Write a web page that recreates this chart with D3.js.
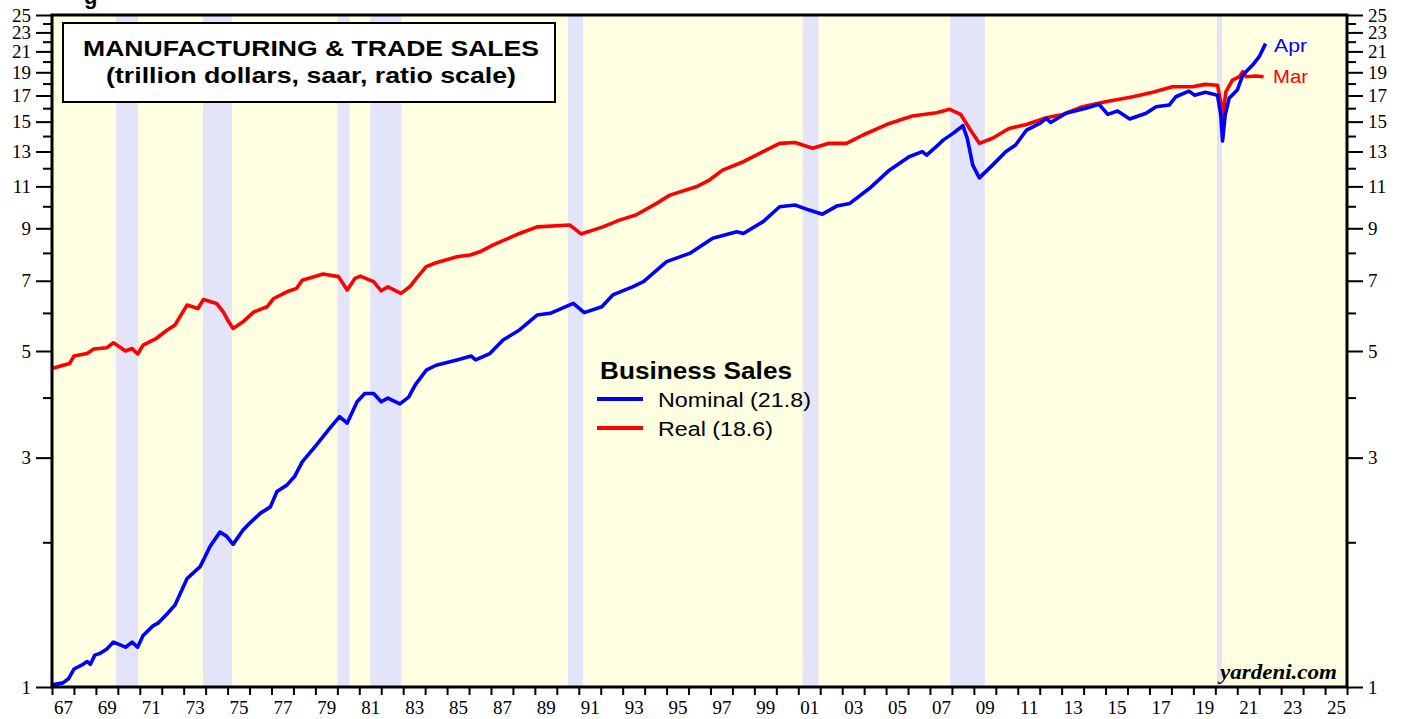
<!DOCTYPE html>
<html>
<head>
<meta charset="utf-8">
<script src="https://cdn.jsdelivr.net/npm/d3@7/dist/d3.min.js"></script>
<style>
  html, body { margin: 0; padding: 0; background: #ffffff; }
  svg { display: block; }
</style>
</head>
<body>
<svg id="chart" width="1402" height="719"></svg>
<script>
// ---------------- DATA ----------------
// Business sales, trillion dollars, saar (decimal year, value)
const nominalYears = [1967.0,1967.5,1967.75,1968.0,1968.35,1968.6,1968.75,1968.95,1969.2,1969.5,1969.8,1970.35,1970.65,1970.9,1971.15,1971.6,1971.85,1972.25,1972.6,1973.15,1973.75,1974.2,1974.65,1974.95,1975.25,1975.7,1976.0,1976.5,1976.95,1977.25,1977.7,1978.05,1978.4,1979.05,1979.65,1980.1,1980.45,1980.9,1981.25,1981.65,1982.0,1982.3,1982.85,1983.25,1983.55,1984.05,1984.5,1985.45,1986.1,1986.3,1986.95,1987.55,1988.3,1989.1,1989.7,1990.75,1991.25,1992.05,1992.55,1993.45,1993.95,1995.0,1996.05,1997.1,1998.2,1998.5,1999.4,2000.15,2000.85,2001.5,2002.1,2002.75,2003.35,2004.25,2005.15,2006.05,2006.65,2006.85,2007.45,2007.6,2008.05,2008.5,2008.7,2008.95,2009.25,2009.85,2010.45,2010.9,2011.4,2012.0,2012.3,2012.5,2013.2,2014.1,2014.7,2015.1,2015.55,2016.1,2016.85,2017.3,2017.9,2018.2,2018.8,2019.05,2019.55,2020.1,2020.25,2020.33,2020.45,2020.63,2021.0,2021.25,2021.7,2022.0,2022.29];
const nominalValues = [1.01,1.02,1.04,1.09,1.11,1.13,1.115,1.165,1.175,1.20,1.24,1.21,1.24,1.21,1.28,1.34,1.36,1.42,1.48,1.68,1.78,1.96,2.10,2.06,1.98,2.12,2.19,2.30,2.37,2.55,2.63,2.74,2.94,3.19,3.45,3.65,3.54,3.92,4.08,4.08,3.92,3.99,3.88,4.01,4.25,4.56,4.67,4.79,4.88,4.79,4.94,5.27,5.53,5.94,5.99,6.28,6.01,6.18,6.54,6.80,6.97,7.67,7.98,8.58,8.85,8.78,9.29,9.98,10.06,9.82,9.63,10.01,10.14,10.90,11.89,12.68,12.99,12.78,13.52,13.73,14.18,14.71,13.85,12.18,11.46,12.18,12.99,13.41,14.41,14.87,15.24,14.94,15.61,15.99,16.30,15.53,15.78,15.19,15.61,16.11,16.24,16.90,17.36,17.03,17.26,17.03,15.48,13.67,15.48,16.77,17.45,18.75,19.67,20.47,21.8];

const realYears = [1967.0,1967.8,1968.0,1968.6,1968.9,1969.5,1969.8,1970.35,1970.65,1970.9,1971.15,1971.7,1972.25,1972.6,1973.15,1973.65,1973.9,1974.5,1974.8,1975.05,1975.25,1975.7,1976.2,1976.8,1977.1,1977.7,1978.15,1978.4,1979.05,1979.35,1980.05,1980.45,1980.8,1981.05,1981.65,1982.0,1982.3,1982.9,1983.3,1983.6,1984.05,1984.5,1985.45,1986.05,1986.5,1987.1,1988.3,1989.1,1990.6,1991.1,1992.1,1992.85,1993.6,1994.55,1995.15,1996.35,1996.95,1997.55,1998.5,1999.4,2000.15,2000.85,2001.65,2002.4,2003.2,2003.95,2005.15,2006.2,2007.3,2007.9,2008.4,2008.8,2009.25,2009.85,2010.6,2011.4,2012.3,2013.05,2013.95,2015.0,2016.25,2017.15,2018.05,2018.95,2019.55,2020.1,2020.25,2020.33,2020.48,2020.78,2021.1,2021.25,2021.4,2021.85,2022.2];
const realValues = [4.60,4.71,4.88,4.94,5.05,5.08,5.20,5.00,5.06,4.93,5.14,5.29,5.53,5.66,6.23,6.13,6.40,6.28,6.03,5.75,5.57,5.75,6.03,6.18,6.43,6.64,6.75,7.02,7.16,7.23,7.14,6.70,7.08,7.16,6.97,6.67,6.80,6.59,6.80,7.08,7.49,7.63,7.85,7.92,8.04,8.31,8.78,9.06,9.14,8.76,9.06,9.36,9.59,10.14,10.55,10.98,11.34,11.89,12.38,12.99,13.52,13.57,13.20,13.52,13.52,14.07,14.87,15.41,15.65,15.91,15.53,14.52,13.52,13.85,14.52,14.80,15.28,15.53,16.11,16.50,16.90,17.26,17.73,17.73,17.93,17.86,16.50,15.24,17.3,18.31,18.6,19.05,18.6,18.66,18.6];

// Recessions (start, end in decimal years)
const recessionStarts = [1969.92, 1973.88, 1980.0, 1981.5, 1990.5, 2001.2, 2007.92, 2020.08];
const recessionEnds   = [1970.92, 1975.2, 1980.55, 1982.92, 1991.2, 2001.92, 2009.5, 2020.3];

const yLabelTicks = [1,3,5,7,9,11,13,15,17,19,21,23,25];
const yMinorTicks = [2,4,6,8,10,12,14,16,18,20,22,24];
const xTickYears = d3.range(1967, 2027);
const xLabelYears = d3.range(1967, 2026, 2);

const titleLines = ["MANUFACTURING & TRADE SALES", "(trillion dollars, saar, ratio scale)"];
const legendTitle = "Business Sales";
const legendLabels = ["Nominal (21.8)", "Real (18.6)"];
const endLabels = ["Apr", "Mar"];
const seriesColors = ["#0000ff", "#ff0000"];

// ---------------- LAYOUT ----------------
const L = 52, R = 1347, T = 15, B = 687;
const svg = d3.select("#chart");

const x = d3.scaleLinear().domain([1967, 2026]).range([L, R]);
const y = d3.scaleLog().domain([1, 25]).range([B, T]);

// top cut-off text fragment
svg.append("text").attr("x", 84).attr("y", 4)
  .attr("font-family", "Liberation Sans, Arial, sans-serif").attr("font-weight", "bold")
  .attr("font-size", 22).text("g");

// background
svg.append("rect").attr("x", L).attr("y", T).attr("width", R - L).attr("height", B - T)
  .attr("fill", "#ffffe2");

// recession bands
svg.append("g").selectAll("rect")
  .data(recessionStarts.map((s, i) => [s, recessionEnds[i]]))
  .join("rect")
  .attr("x", d => x(d[0])).attr("width", d => x(d[1]) - x(d[0]))
  .attr("y", T).attr("height", B - T)
  .attr("fill", "#e3e3f9");

// clip
svg.append("clipPath").attr("id", "plotclip").append("rect")
  .attr("x", L).attr("y", T).attr("width", R - L).attr("height", B - T);

// title box
svg.append("rect").attr("x", 63).attr("y", 23).attr("width", 492).attr("height", 79)
  .attr("fill", "#ffffff").attr("stroke", "#000").attr("stroke-width", 2);
const titleG = svg.append("g").attr("font-family", "Liberation Sans, Arial, sans-serif")
  .attr("font-weight", "bold").attr("font-size", 22).attr("text-anchor", "middle");
titleG.append("text").attr("x", 311).attr("y", 56).attr("textLength", 456)
  .attr("lengthAdjust", "spacingAndGlyphs").text(titleLines[0]);
titleG.append("text").attr("x", 311).attr("y", 83).attr("textLength", 410)
  .attr("lengthAdjust", "spacingAndGlyphs").text(titleLines[1]);

// lines
const line = d3.line().x(d => x(d[0])).y(d => y(d[1]));
const nominal = nominalYears.map((yr, i) => [yr, nominalValues[i]]);
const real = realYears.map((yr, i) => [yr, realValues[i]]);
const lines = svg.append("g").attr("clip-path", "url(#plotclip)");
lines.append("path").datum(real).attr("d", line).attr("fill", "none")
  .attr("stroke", seriesColors[1]).attr("stroke-width", 3.6).attr("stroke-linejoin", "round");
lines.append("path").datum(nominal).attr("d", line).attr("fill", "none")
  .attr("stroke", seriesColors[0]).attr("stroke-width", 3.6).attr("stroke-linejoin", "round");

// legend
const lg = svg.append("g").attr("font-family", "Liberation Sans, Arial, sans-serif");
lg.append("text").attr("x", 600).attr("y", 379).attr("font-weight", "bold").attr("font-size", 23)
  .attr("textLength", 192).attr("lengthAdjust", "spacingAndGlyphs").text(legendTitle);
const legendYs = [399, 428];
const legendWidths = [153, 115];
legendLabels.forEach((lab, i) => {
  lg.append("line").attr("x1", 597).attr("x2", 643).attr("y1", legendYs[i]).attr("y2", legendYs[i])
    .attr("stroke", seriesColors[i]).attr("stroke-width", 4);
  lg.append("text").attr("x", 658).attr("y", legendYs[i] + 8).attr("font-size", 20)
    .attr("textLength", legendWidths[i]).attr("lengthAdjust", "spacingAndGlyphs").text(lab);
});

// end labels
const endG = svg.append("g").attr("font-family", "Liberation Sans, Arial, sans-serif").attr("font-size", 19);
endG.append("text").attr("x", 1274).attr("y", 52).attr("fill", seriesColors[0])
  .attr("textLength", 33).attr("lengthAdjust", "spacingAndGlyphs").text(endLabels[0]);
endG.append("text").attr("x", 1273).attr("y", 83).attr("fill", seriesColors[1])
  .attr("textLength", 35).attr("lengthAdjust", "spacingAndGlyphs").text(endLabels[1]);

// watermark
svg.append("text").attr("x", 1337).attr("y", 679).attr("text-anchor", "end")
  .attr("font-family", "Liberation Serif, Times New Roman, serif").attr("font-weight", "bold")
  .attr("font-style", "italic").attr("font-size", 20)
  .attr("textLength", 117).attr("lengthAdjust", "spacingAndGlyphs").text("yardeni.com");

// ---------------- AXES ----------------
const fmtNum = d => String(d);
function styleAxis(g) {
  g.select(".domain").remove();
  g.selectAll(".tick line").attr("stroke", "#000").attr("stroke-width", 2);
  g.selectAll(".tick text").attr("font-family", "Liberation Serif, Times New Roman, serif")
    .attr("font-size", 19).attr("fill", "#000");
}
// left
svg.append("g").attr("transform", `translate(${L},0)`)
  .call(d3.axisLeft(y).tickValues(yMinorTicks).tickSize(9).tickFormat(""))
  .call(styleAxis);
svg.append("g").attr("transform", `translate(${L},0)`)
  .call(d3.axisLeft(y).tickValues(yLabelTicks).tickSize(16).tickPadding(5).tickFormat(fmtNum))
  .call(styleAxis);
// right
svg.append("g").attr("transform", `translate(${R},0)`)
  .call(d3.axisRight(y).tickValues(yMinorTicks).tickSize(9).tickFormat(""))
  .call(styleAxis);
svg.append("g").attr("transform", `translate(${R},0)`)
  .call(d3.axisRight(y).tickValues(yLabelTicks).tickSize(16).tickPadding(5).tickFormat(fmtNum))
  .call(styleAxis);
// bottom ticks
svg.append("g").attr("transform", `translate(0,${B})`)
  .call(d3.axisBottom(x).tickValues(xTickYears).tickSize(8).tickFormat(""))
  .call(styleAxis);
// bottom labels (centered in each year)
const xl = svg.append("g").attr("transform", `translate(0,${B})`)
  .call(d3.axisBottom(x).tickValues(xLabelYears.map(v => v + 0.5)).tickSize(0).tickPadding(14)
    .tickFormat(v => String(Math.floor(v) % 100).padStart(2, "0")))
  .call(styleAxis);

// frame
svg.append("rect").attr("x", L).attr("y", T).attr("width", R - L).attr("height", B - T)
  .attr("fill", "none").attr("stroke", "#000").attr("stroke-width", 3);
</script>
</body>
</html>
